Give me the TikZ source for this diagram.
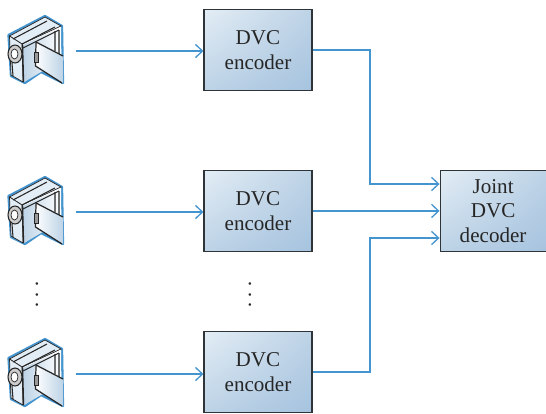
\documentclass[tikz,border=0pt]{standalone}
\usepackage{fontspec}
\setmainfont{Liberation Serif}
\usetikzlibrary{positioning, arrows.meta, shadings}

\definecolor{linkblue}{HTML}{4494CF}
\definecolor{boxdark}{HTML}{2F3438}
\definecolor{camlight}{HTML}{E3EDF5}
\definecolor{cammid}{HTML}{BDD3E6}
\definecolor{boxdeep}{HTML}{A6C3DF}

\tikzset{
    block/.style={draw=boxdark, line width=0.65pt, minimum width=2.16cm, minimum height=1.61cm,
        align=center, inner sep=0pt, text=black!85, font=\fontsize{12}{14}\selectfont,
        execute at begin node={\rule{0pt}{10.5pt}},
        upper left=camlight, upper right=cammid, lower left=cammid, lower right=boxdeep},
    link/.style={draw=linkblue, line width=0.75pt, -{Straight Barb[length=4pt,width=7.5pt,line width=0.75pt]}},
    vdots/.style={inner sep=0pt, align=center, text=black!85, font=\fontsize{6}{6}\selectfont},
    camera/.pic={
        % outline
        \filldraw[draw=linkblue, line width=1.3pt, fill=white, line join=round]
            (8.5,35) -- (45,16) -- (62,26) -- (63,83) -- (41,72) -- (25,83) -- (11,76) -- cycle;
        % body
        \filldraw[draw=black!85, line width=0.4pt, fill=camlight]
            (9.5,36) -- (45,17) -- (61,26) -- (22,44) -- cycle;
        \filldraw[draw=black!85, line width=0.4pt, fill=camlight]
            (9.5,36) -- (22,44) -- (23,82) -- (11,75) -- cycle;
        \shade[left color=cammid, right color=white]
            (23,45) -- (61,27) -- (61,56) -- (41,72) -- (24,82) -- cycle;
        \draw[black!85, line width=0.6pt] (13,39) -- (47,21) (22,44) -- (55,27) (23,48) -- (59,30);
        \draw[black!85, line width=0.8pt] (22.5,44) -- (23.5,82);
        \draw[black!85, line width=0.6pt] (55,31) -- (55,51) (59,30) -- (59,54) (12,63) -- (13,76);
        % lens
        \filldraw[draw=black!85, line width=0.6pt, fill=black!20] (15,54) ellipse (7 and 9);
        \filldraw[draw=black!85, line width=0.4pt, fill=white] (14.5,54) ellipse (3.5 and 5);
        % screen
        \shade[left color=white, right color=cammid]
            (36,42) -- (63,56) -- (63,83) -- (35,65) -- cycle;
        \draw[black!85, line width=0.7pt] (63,56) -- (36,42) -- (35.5,66) -- (62,83);
        \filldraw[draw=black!85, line width=0.3pt, fill=black!40] (34,52) rectangle (38,62);
    }
}

\begin{document}
\begin{tikzpicture}[x=0.02cm, y=-0.02cm]
    \useasboundingbox (0,0) rectangle (546,413);

    \pic at (0,0) {camera};
    \pic at (0,161) {camera};
    \pic at (0,323) {camera};

    \coordinate (cam1) at (76,51);
    \coordinate (cam2) at (76,212);
    \coordinate (cam3) at (76,374);

    \node[block] (enc1) at (258,50) {DVC\\encoder};
    \node[block, below=1.587cm of enc1] (enc2) {DVC\\encoder};
    \node[block, below=1.587cm of enc2] (enc3) {DVC\\encoder};
    \node[block, minimum width=2.12cm, right=2.54cm of enc2] (dec) {Joint\\DVC\\decoder};

    \node[vdots] (dots1) at (37,296) {\textbullet\\\textbullet\\\textbullet};
    \node[vdots] (dots2) at (250,296) {\textbullet\\\textbullet\\\textbullet};

    \coordinate (turn1) at (370,184);
    \coordinate (turn3) at (370,238);

    \draw[link] (cam1) -- (enc1.west |- cam1);
    \draw[link] (cam2) -- (enc2.west |- cam2);
    \draw[link] (cam3) -- (enc3.west |- cam3);

    \draw[link] (enc1.east) -| (turn1) -- (dec.west |- turn1);
    \draw[link] (enc2.east) -- (dec.west |- enc2.east);
    \draw[link] (enc3.east) -| (turn3) -- (dec.west |- turn3);
\end{tikzpicture}
\end{document}
